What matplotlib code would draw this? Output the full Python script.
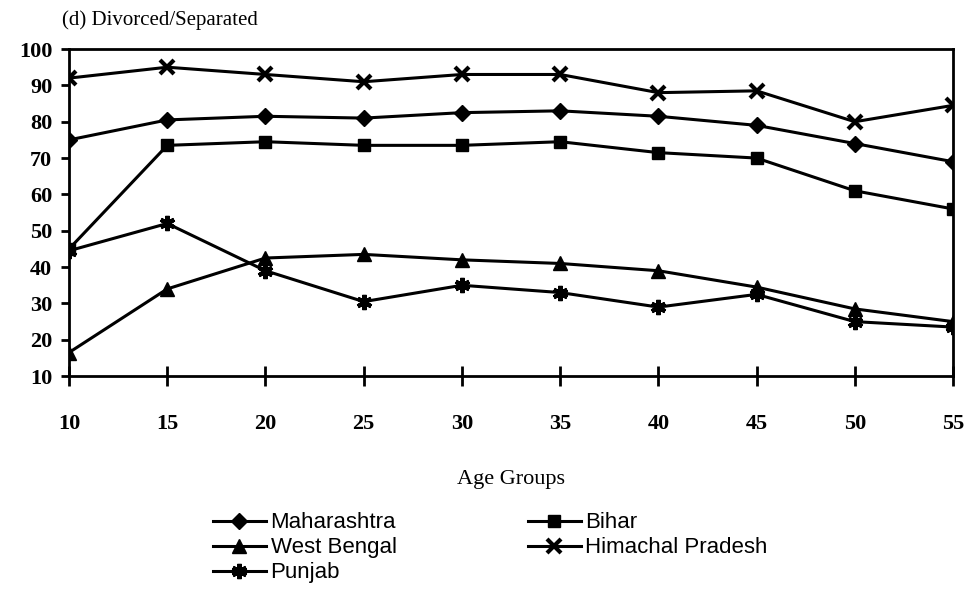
import matplotlib
matplotlib.use("Agg")
import matplotlib.pyplot as plt

ages = [10, 15, 20, 25, 30, 35, 40, 45, 50, 55]
maharashtra = [75, 80.5, 81.5, 81, 82.5, 83, 81.5, 79, 74, 69]
bihar = [45, 73.5, 74.5, 73.5, 73.5, 74.5, 71.5, 70, 61, 56]
west_bengal = [16.5, 34, 42.5, 43.5, 42, 41, 39, 34.5, 28.5, 25]
himachal = [92, 95, 93, 91, 93, 93, 88, 88.5, 80, 84.5]
punjab = [44.5, 52, 39, 30.5, 35, 33, 29, 32.5, 25, 23.5]
yticks = [10, 20, 30, 40, 50, 60, 70, 80, 90, 100]

serif = ["Liberation Serif", "DejaVu Serif"]
fig = plt.figure(figsize=(9.71, 5.98), dpi=100)
ax = fig.add_axes([0.0711, 0.371, 0.9104, 0.547])

lw = 2.2
h_m, = ax.plot(ages, maharashtra, color="black", lw=lw, marker="D", ms=8, label="Maharashtra")
h_b, = ax.plot(ages, bihar, color="black", lw=lw, marker="s", ms=9, label="Bihar")
h_w, = ax.plot(ages, west_bengal, color="black", lw=lw, marker="^", ms=10, label="West Bengal")
h_h, = ax.plot(ages, himachal, color="black", lw=lw, marker="x", ms=10, mew=3, label="Himachal Pradesh")
h_p, = ax.plot(ages, punjab, color="black", lw=lw, marker=(6, 2, 0), ms=11, mew=3, label="Punjab")

ax.set_xlim(10, 55)
ax.set_ylim(10, 100)
ax.set_xticks(ages)
ax.set_yticks(yticks)
for s in ax.spines.values():
    s.set_linewidth(2)
ax.tick_params(axis="x", direction="inout", length=14, width=2, pad=20)
ax.tick_params(axis="y", direction="out", length=6, width=2, pad=6)
for lab in ax.get_xticklabels() + ax.get_yticklabels():
    lab.set_fontfamily(serif)
    lab.set_fontsize(16)
    lab.set_fontweight("bold")

ax.set_xlabel("Age Groups", fontfamily=serif, fontsize=16, labelpad=26)
fig.text(0.064, 0.967, "(d) Divorced/Separated", fontfamily=serif, fontsize=15, ha="left", va="center")

handles = [h_m, h_w, h_p, h_b, h_h]
leg = fig.legend(handles=handles, loc="upper left", bbox_to_anchor=(0.21, 0.158), ncol=2,
                 frameon=False, handlelength=2.4, handletextpad=0.2, columnspacing=5.9,
                 labelspacing=0.18, borderaxespad=0,
                 prop={"family": ["Liberation Sans Narrow", "Liberation Sans"], "size": 16})

fig.savefig("out.png", dpi=100)
